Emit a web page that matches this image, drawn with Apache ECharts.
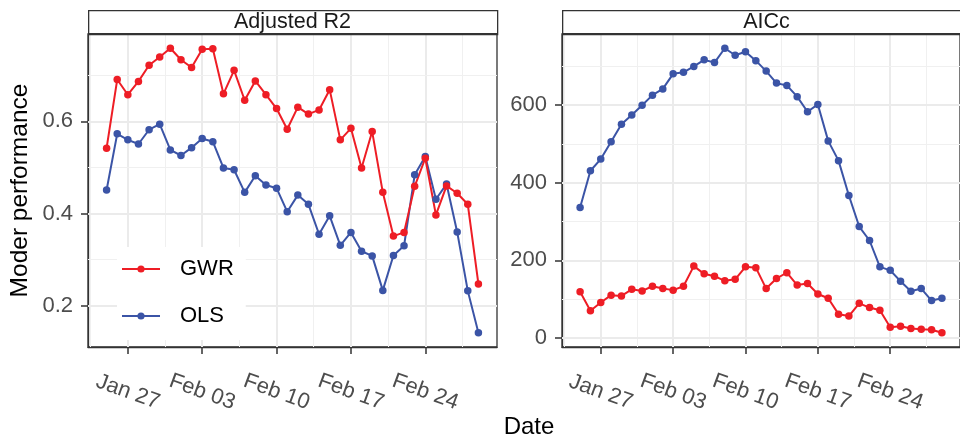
<!DOCTYPE html>
<html><head><meta charset="utf-8">
<script src="https://cdn.jsdelivr.net/npm/echarts@6/dist/echarts.min.js"></script>
<style>html,body{margin:0;padding:0;background:#fff;overflow:hidden}#c{width:960px;height:441px}</style>
</head><body><div id="c"></div>
<script>
// ---- data ----
const dates = ['2020-01-25','2020-01-26','2020-01-27','2020-01-28','2020-01-29','2020-01-30','2020-01-31',
  '2020-02-01','2020-02-02','2020-02-03','2020-02-04','2020-02-05','2020-02-06','2020-02-07','2020-02-08',
  '2020-02-09','2020-02-10','2020-02-11','2020-02-12','2020-02-13','2020-02-14','2020-02-15','2020-02-16',
  '2020-02-17','2020-02-18','2020-02-19','2020-02-20','2020-02-21','2020-02-22','2020-02-23','2020-02-24',
  '2020-02-25','2020-02-26','2020-02-27','2020-02-28','2020-02-29'];
const r2GWR = [0.542,0.691,0.658,0.687,0.722,0.740,0.759,0.734,0.717,0.757,0.758,0.660,0.711,0.646,0.688,0.658,0.628,0.583,0.631,0.616,0.625,0.669,0.560,0.585,0.499,0.578,0.446,0.351,0.359,0.459,0.520,0.397,0.460,0.444,0.420,0.247];
const r2OLS = [0.451,0.573,0.560,0.551,0.582,0.594,0.538,0.526,0.543,0.563,0.556,0.499,0.495,0.446,0.482,0.462,0.455,0.404,0.440,0.420,0.355,0.395,0.331,0.359,0.318,0.308,0.233,0.309,0.330,0.484,0.524,0.431,0.464,0.360,0.232,0.141];
const aicGWR = [119,70,91,110,108,125,121,133,127,123,133,185,165,159,147,151,183,181,127,153,168,136,140,113,102,61,56,89,78,71,27,30,24,22,21,13];
const aicOLS = [336,431,461,506,551,575,600,626,642,681,685,700,717,710,747,729,738,715,688,657,651,622,583,602,508,457,367,287,251,183,174,146,120,127,96,102];
const xTickDates = ['2020-01-27','2020-02-03','2020-02-10','2020-02-17','2020-02-24'];
const xTickLabels = ['Jan 27','Feb 03','Feb 10','Feb 17','Feb 24'];
const r2Ticks = [0.2,0.4,0.6];
const aicTicks = [0,200,400,600];
const panelTitles = ['Adjusted R2','AICc'];
const seriesNames = ['GWR','OLS'];

// ---- helpers ----
const RED = '#EE1D25', BLUE = '#3B54A6';
const FONT = 'Liberation Sans, Arial, sans-serif';
const DAY = 86400000, base = Date.parse(xTickDates[0]);
const toX = d => (Date.parse(d) - base) / DAY;
const xs = dates.map(toX);
const xTicks = xTickDates.map(toX);
function expand(arr){ const mn=Math.min(...arr), mx=Math.max(...arr), p=(mx-mn)*0.05; return [mn-p, mx+p]; }
const [xMin, xMax] = expand(xs);
const r2Range = expand(r2GWR.concat(r2OLS));
const aicRange = expand(aicGWR.concat(aicOLS));

function gridVals(ticks, lo, hi){
  const step = ticks[1]-ticks[0];
  const minor = [];
  for (let v = ticks[0]-step/2; v > lo; v -= step) minor.push(v);
  for (let v = ticks[0]+step/2; v < hi; v += step) minor.push(v);
  const major = [];
  for (let v = ticks[0]-step; v > lo; v -= step) major.push(v);
  for (let v = ticks[0]; v < hi + 1e-9; v += step) major.push(+v.toFixed(6));
  return {major, minor};
}
const xg = gridVals(xTicks, xMin, xMax);
function markLines(dim, g){
  const d = [];
  g.minor.forEach(v => d.push({[dim]: v, lineStyle:{color:'#f0f0f0', width:1, type:'solid'}}));
  g.major.forEach(v => d.push({[dim]: v, lineStyle:{color:'#ebebeb', width:2, type:'solid'}}));
  return d;
}

const panels = [
  {gwr: r2GWR, ols: r2OLS, range: r2Range, ticks: r2Ticks, fmt: v => v.toFixed(1)},
  {gwr: aicGWR, ols: aicOLS, range: aicRange, ticks: aicTicks, fmt: v => String(Math.round(v))}
];
const gridLeft = [88, 562], gridTop = 34, gridW = 409, gridH = 313;

const grids = [], xAxes = [], yAxes = [], series = [], graphics = [];
panels.forEach((p, i) => {
  grids.push({left: gridLeft[i], top: gridTop, width: gridW, height: gridH, show: true,
    borderColor: '#333', borderWidth: 1.3, backgroundColor: '#fff'});
  const axLine = {show: true, onZero: false, lineStyle: {color: '#333', width: 1.3}};
  xAxes.push({type: 'value', gridIndex: i, min: xMin, max: xMax,
    axisLine: axLine,
    axisTick: {show: true, length: 7, customValues: xTicks, lineStyle: {color: '#333', width: 1.5}},
    axisLabel: {customValues: xTicks, formatter: v => xTickLabels[xTicks.indexOf(Math.round(v))],
      rotate: -20, align: 'center', verticalAlign: 'middle', margin: 45,
      fontSize: 22, color: '#4d4d4d', fontFamily: FONT},
    splitLine: {show: false}});
  yAxes.push({type: 'value', gridIndex: i, min: p.range[0], max: p.range[1],
    axisLine: axLine,
    axisTick: {show: true, length: 7, customValues: p.ticks, lineStyle: {color: '#333', width: 1.5}},
    axisLabel: {customValues: p.ticks, formatter: p.fmt, margin: 15,
      fontSize: 22, color: '#4d4d4d', fontFamily: FONT},
    splitLine: {show: false},
    name: i === 0 ? 'Moder performance' : '', nameLocation: 'middle', nameGap: 55,
    nameTextStyle: {fontSize: 24.5, color: '#000', fontFamily: FONT}});
  const yg = gridVals(p.ticks, p.range[0], p.range[1]);
  series.push({type: 'line', name: '_grid' + i, xAxisIndex: i, yAxisIndex: i, data: [], z: 1,
    silent: true, animation: false,
    markLine: {silent: true, z: 1, symbol: ['none','none'], label: {show: false}, animation: false,
      emphasis: {disabled: true},
      data: markLines('xAxis', xg).concat(markLines('yAxis', yg))}});
  [[seriesNames[1], p.ols, BLUE], [seriesNames[0], p.gwr, RED]].forEach(([nm, vals, col]) => {
    series.push({type: 'line', name: nm, xAxisIndex: i, yAxisIndex: i, z: 3,
      data: xs.map((x, k) => [x, vals[k]]),
      symbol: 'circle', symbolSize: 7.5, showSymbol: true,
      lineStyle: {color: col, width: 2}, itemStyle: {color: col},
      emphasis: {disabled: true}, animation: false});
  });
  graphics.push({type: 'rect', left: gridLeft[i], top: 10, z: 10,
    shape: {width: gridW, height: 24}, style: {fill: '#fff', stroke: '#333', lineWidth: 1.3}});
  graphics.push({type: 'line', z: 11, shape: {x1: gridLeft[i], y1: 34, x2: gridLeft[i] + gridW, y2: 34},
    style: {stroke: '#333', lineWidth: 2}});
  graphics.push({type: 'text', z: 12, x: gridLeft[i] + gridW / 2, y: 22,
    style: {text: panelTitles[i], fill: '#1a1a1a', font: '21.5px ' + FONT, textAlign: 'center', textVerticalAlign: 'middle'}});
});
graphics.push({type: 'text', z: 12, x: 529, y: 427,
  style: {text: 'Date', fill: '#000', font: '24px ' + FONT, textAlign: 'center', textVerticalAlign: 'middle'}});

const legendIcon = 'path://M0,3.1L38,3.1L38,4.9L0,4.9Z M22.6,4A3.6,3.6,0,1,1,15.4,4A3.6,3.6,0,1,1,22.6,4Z';
const chart = echarts.init(document.getElementById('c'), null, {renderer: 'canvas'});
chart.setOption({
  animation: false,
  grid: grids, xAxis: xAxes, yAxis: yAxes, series: series, graphic: graphics,
  legend: {data: [{name: 'GWR', icon: legendIcon, itemStyle: {color: RED}},
                  {name: 'OLS', icon: legendIcon, itemStyle: {color: BLUE}}],
    orient: 'vertical', left: 117, top: 247, z: 20,
    backgroundColor: '#fff', padding: [10, 12, 12, 5], itemGap: 23,
    itemWidth: 38, itemHeight: 8, selectedMode: false,
    textStyle: {fontSize: 22, color: '#000', fontFamily: FONT, padding: [0, 0, 0, 15], lineHeight: 24}}
});
</script></body></html>
